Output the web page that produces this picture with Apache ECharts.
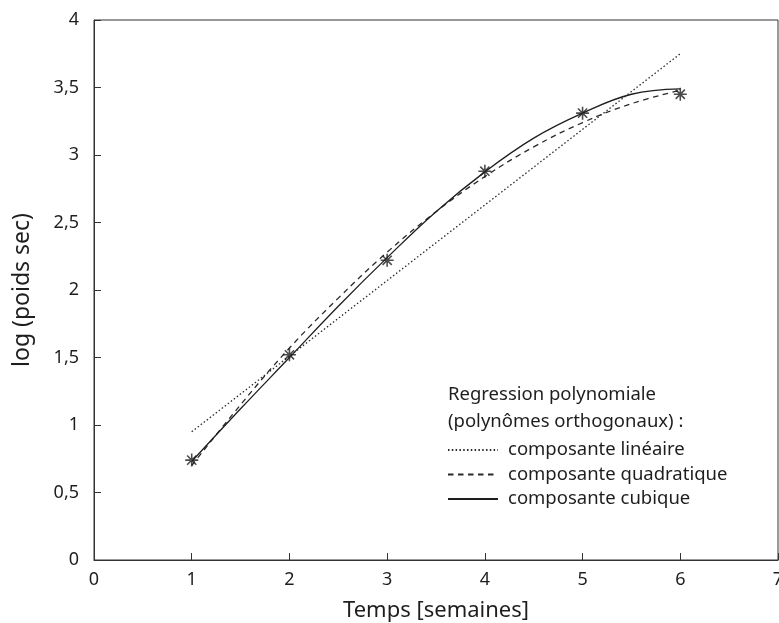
<!DOCTYPE html>
<html>
<head>
<meta charset="utf-8">
<script src="https://cdn.jsdelivr.net/npm/echarts@6/dist/echarts.min.js"></script>
<style>html,body{margin:0;padding:0;background:#fff}#c{width:779px;height:623px}</style>
</head>
<body>
<div id="c"></div>
<script>
// Observed data (weeks, log dry weight)
const obsX = [1, 2, 3, 4, 5, 6];
const obsY = [0.74, 1.52, 2.22, 2.88, 3.31, 3.45];
// Fitted curves
const linX = [1, 6];
const linY = [0.95, 3.75];
const curveX = [1, 1.5, 2, 2.5, 3, 3.5, 4, 4.5, 5, 5.5, 6];
const quadY = [0.70, 1.15, 1.57, 1.94, 2.28, 2.58, 2.84, 3.06, 3.24, 3.38, 3.48];
const cubY  = [0.73, 1.12, 1.50, 1.88, 2.24, 2.58, 2.875, 3.125, 3.31, 3.45, 3.49];
const seriesNames = ['composante linéaire', 'composante quadratique', 'composante cubique'];
const legendTitle = ['Regression polynomiale', '(polynômes orthogonaux) :'];

const zip = (xs, ys) => xs.map((x, i) => [x, ys[i]]);
const FONT = '"Noto Sans", "Open Sans", sans-serif';
const INK = '#1e1e1e';
const star = 'path://M-0.6,-5L0.6,-5L0.6,5L-0.6,5Z M-5,-0.6L5,-0.6L5,0.6L-5,0.6Z M-3.95,-3.1L-3.1,-3.95L3.95,3.1L3.1,3.95Z M3.1,-3.95L3.95,-3.1L-3.1,3.95L-3.95,3.1Z M-1.6,-1.6L1.6,-1.6L1.6,1.6L-1.6,1.6Z';

const chart = echarts.init(document.getElementById('c'));
chart.setOption({
  animation: false,
  backgroundColor: '#fff',
  grid: { left: 94, right: 1, top: 20, bottom: 63, show: true, borderColor: '#333', borderWidth: 1,
    backgroundColor: 'transparent', outerBoundsMode: 'none', containLabel: false },
  xAxis: {
    type: 'value', min: 0, max: 7, interval: 1,
    name: 'Temps [semaines]', nameLocation: 'middle', nameGap: 40,
    nameTextStyle: { fontFamily: FONT, fontSize: 22, color: INK },
    axisLine: { lineStyle: { color: '#333', width: 1 } },
    axisTick: { inside: true, length: 7, lineStyle: { color: '#333' } },
    axisLabel: { fontFamily: FONT, fontSize: 18, color: INK, margin: 11 },
    splitLine: { show: false }
  },
  yAxis: {
    type: 'value', min: 0, max: 4, interval: 0.5,
    name: 'log (poids sec)', nameLocation: 'middle', nameGap: 60,
    nameTextStyle: { fontFamily: FONT, fontSize: 23, color: INK },
    axisLine: { show: true, lineStyle: { color: '#333', width: 1 } },
    axisTick: { show: true, inside: true, length: 7, lineStyle: { color: '#333' } },
    axisLabel: { fontFamily: FONT, fontSize: 18, color: INK, margin: 15,
      formatter: v => String(v).replace('.', ',') },
    splitLine: { show: false }
  },
  graphic: [
    { type: 'text', x: 448, y: 395, style: { text: legendTitle[0], fontFamily: FONT, fontSize: 18.5, fill: INK, verticalAlign: 'middle' } },
    { type: 'text', x: 448, y: 422, style: { text: legendTitle[1], fontFamily: FONT, fontSize: 18.5, fill: INK, verticalAlign: 'middle' } }
  ],
  legend: {
    data: seriesNames,
    orient: 'vertical', left: 447, top: 440, padding: 0,
    itemWidth: 50, itemHeight: 14, itemGap: 4.5,
    itemStyle: { opacity: 0 },
    textStyle: { fontFamily: FONT, fontSize: 18.5, lineHeight: 20, color: INK, padding: [0, 0, 0, 5] }
  },
  series: [
    { name: seriesNames[0], type: 'line', data: zip(linX, linY), symbol: 'none',
      lineStyle: { color: '#2a2a2a', width: 1.3, type: [1.5, 2.3] }, itemStyle: { color: '#2a2a2a' } },
    { name: seriesNames[1], type: 'line', data: zip(curveX, quadY), symbol: 'none', smooth: 0.4,
      lineStyle: { color: '#2a2a2a', width: 1.3, type: [5.5, 4.5] }, itemStyle: { color: '#2a2a2a' } },
    { name: seriesNames[2], type: 'line', data: zip(curveX, cubY), symbol: 'none', smooth: 0.4,
      lineStyle: { color: '#1e1e1e', width: 1.3, type: 'solid' }, itemStyle: { color: '#1e1e1e' } },
    { name: 'obs', type: 'scatter', data: zip(obsX, obsY), symbol: star, symbolSize: 13,
      itemStyle: { color: '#1e1e1e' }, z: 5 }
  ]
});
</script>
</body>
</html>
